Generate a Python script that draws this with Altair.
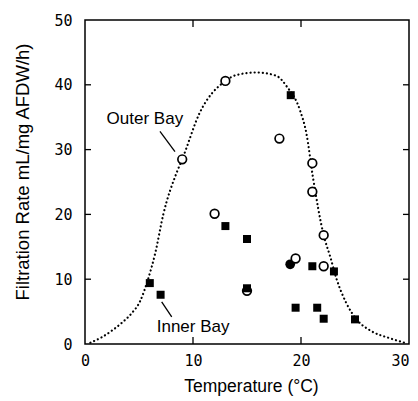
import altair as alt
import pandas as pd

# Outer Bay (open circles)
outer_t = [13.0, 18.0, 9.0, 21.05, 21.05, 12.0, 22.1, 19.5, 22.1, 15.0]
outer_f = [40.6, 31.7, 28.5, 27.9, 23.5, 20.1, 16.8, 13.2, 12.0, 8.2]
# Inner Bay (filled squares)
inner_t = [19.05, 13.0, 15.0, 21.05, 23.05, 6.0, 15.0, 7.0, 19.5, 21.5, 22.1, 25.0]
inner_f = [38.4, 18.2, 16.2, 12.0, 11.2, 9.4, 8.6, 7.6, 5.6, 5.6, 3.9, 3.8]
# single filled circle
other_t = [19.0]
other_f = [12.3]
# dotted envelope curve
curve_t = [0.5, 1.5, 2.6, 3.5, 4.3, 5.1, 5.8, 6.5, 7.25, 8.5, 9.0, 10.6, 13.0, 14.0, 15.9,
           17.7, 18.7, 19.9, 20.5, 21.1, 22.1, 22.7, 23.3, 24.2, 25.2, 26.5, 28.2, 29.8]
curve_f = [0.2, 1.0, 2.2, 3.4, 4.7, 6.6, 9.8, 14.0, 20.0, 26.5, 28.5, 35.6, 40.6, 41.5, 41.9,
           41.4, 39.7, 36.1, 32.5, 25.8, 16.8, 13.5, 10.0, 6.3, 3.7, 2.0, 0.9, 0.1]

x_labels = [0, 10, 20, 30]
y_labels = [0, 10, 20, 30, 40, 50]
x_inner_ticks = [10, 20]
y_inner_ticks = [10, 20, 30, 40]

ann_text = ["Outer Bay", "Inner Bay"]
ann_t = [2.0, 6.64]
ann_f = [33.95, 1.8]
lead_t = [6.94, 7.1]
lead_f = [32.8, 6.5]
lead_t2 = [8.33, 8.03]
lead_f2 = [29.7, 4.2]

xscale = alt.Scale(domain=[0, 30], nice=False, zero=False)
yscale = alt.Scale(domain=[0, 50], nice=False, zero=False)

xaxis = alt.Axis(
    values=x_labels, ticks=False, tickSize=0, domain=False, grid=False,
    labelFont="DejaVu Sans Mono", labelFontSize=15, labelColor="black", labelPadding=9,
    labelAlign={"condition": {"test": "datum.value == 30", "value": "right"}, "value": "center"},
    title="Temperature (°C)", titleFont="Liberation Sans", titleFontSize=17.5,
    titleFontWeight="normal", titleColor="black", titleX=166, titleY=47,
    titleBaseline="alphabetic", titleAlign="center",
)
yaxis = alt.Axis(
    values=y_labels, ticks=False, tickSize=0, domain=False, grid=False,
    labelFont="DejaVu Sans Mono", labelFontSize=15, labelColor="black", labelPadding=13,
    title="Filtration Rate mL/mg AFDW/h)", titleFont="Liberation Sans", titleFontSize=18.5,
    titleFontWeight="normal", titleColor="black", titleX=-56.5, titleY=151.5,
    titleAngle=270, titleAlign="center", titleBaseline="alphabetic",
)

def X(field="t"):
    return alt.X(f"{field}:Q", scale=xscale, axis=xaxis)

def Y(field="f"):
    return alt.Y(f"{field}:Q", scale=yscale, axis=yaxis)

curve_df = pd.DataFrame({"t": curve_t, "f": curve_f})
outer_df = pd.DataFrame({"t": outer_t, "f": outer_f})
inner_df = pd.DataFrame({"t": inner_t, "f": inner_f})
other_df = pd.DataFrame({"t": other_t, "f": other_f})
ann_df = pd.DataFrame({"t": ann_t, "f": ann_f, "label": ann_text})
lead_df = pd.DataFrame({"t": lead_t, "f": lead_f, "t2": lead_t2, "f2": lead_f2})
yt_df = pd.DataFrame({"f": y_inner_ticks})
xt_df = pd.DataFrame({"t": x_inner_ticks})

curve = alt.Chart(curve_df).mark_line(
    interpolate="monotone", color="black", strokeWidth=2.2,
    strokeDash=[0.1, 4.0], strokeCap="round"
).encode(x=X(), y=Y())

other = alt.Chart(other_df).mark_circle(size=95, color="black", opacity=1).encode(x=X(), y=Y())

outer = alt.Chart(outer_df).mark_point(
    shape="circle", filled=True, fill="white", stroke="black", strokeWidth=1.7,
    size=75, opacity=1, fillOpacity=1
).encode(x=X(), y=Y())

inner = alt.Chart(inner_df).mark_square(size=64, color="black", opacity=1).encode(x=X(), y=Y())

leaders = alt.Chart(lead_df).mark_rule(color="black", strokeWidth=1.3).encode(
    x=X(), y=Y(), x2="t2:Q", y2="f2:Q"
)

texts = alt.Chart(ann_df).mark_text(
    align="left", baseline="alphabetic", font="Liberation Sans", fontSize=17, color="black"
).encode(x=X(), y=Y(), text="label:N")

left_ticks = alt.Chart(yt_df).mark_rule(color="black", strokeWidth=1.3).encode(
    y=Y(), x=alt.value(0), x2=alt.value(6)
)
right_ticks = alt.Chart(yt_df).mark_rule(color="black", strokeWidth=1.3).encode(
    y=Y(), x=alt.value(324), x2=alt.value(318)
)
top_ticks = alt.Chart(xt_df).mark_rule(color="black", strokeWidth=1.3).encode(
    x=X(), y=alt.value(0), y2=alt.value(7)
)
bottom_ticks = alt.Chart(xt_df).mark_rule(color="black", strokeWidth=1.3).encode(
    x=X(), y=alt.value(324), y2=alt.value(317)
)

chart = alt.layer(
    curve, left_ticks, right_ticks, top_ticks, bottom_ticks,
    leaders, texts, other, outer, inner
).properties(
    width=324, height=324,
    autosize=alt.AutoSizeParams(type="none"),
    padding={"left": 77, "top": 12, "right": 1, "bottom": 56},
    background="white",
).configure_view(stroke="black", strokeWidth=1.5)

chart.save("out.html", embed_options={"renderer": "svg", "actions": False})
